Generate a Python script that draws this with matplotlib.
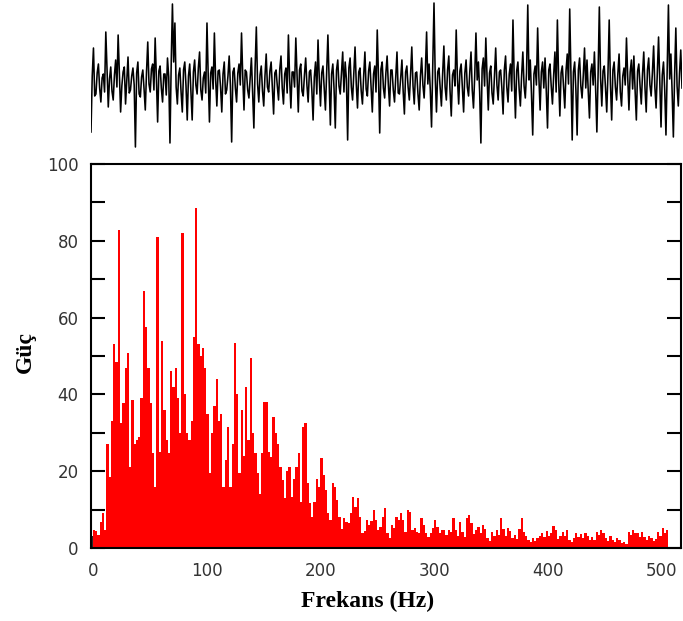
import numpy as np
import matplotlib
matplotlib.use("Agg")
import matplotlib.pyplot as plt
from matplotlib.ticker import MultipleLocator

# power spectrum, 2 Hz bins starting at 0 Hz
power = [
    4.7, 4.5, 3.4, 6.8, 9.1, 4.7, 27.0, 18.5, 33.0, 53.0,
    48.5, 82.8, 32.5, 37.7, 47.0, 50.7, 21.0, 38.5, 27.0, 28.0,
    29.0, 39.0, 67.0, 57.5, 47.0, 37.7, 24.7, 16.0, 81.0, 25.0,
    54.0, 36.0, 28.0, 24.7, 46.0, 42.0, 47.0, 39.0, 30.0, 82.0,
    40.0, 30.0, 28.0, 33.0, 55.0, 88.5, 53.0, 50.0, 52.0, 47.0,
    35.0, 19.5, 30.0, 37.0, 44.0, 33.0, 35.0, 16.0, 23.0, 31.5,
    16.0, 27.0, 53.5, 40.0, 19.5, 36.0, 24.0, 42.0, 28.0, 49.5,
    30.0, 24.7, 19.5, 14.0, 24.7, 38.0, 38.0, 25.0, 23.7, 34.0,
    30.0, 27.0, 21.0, 17.7, 13.0, 20.0, 21.0, 13.3, 18.0, 21.0,
    24.7, 12.0, 31.5, 32.5, 17.0, 11.7, 8.0, 12.0, 18.0, 16.0,
    23.4, 19.0, 15.0, 9.0, 7.3, 17.0, 16.0, 12.5, 8.0, 5.0,
    7.8, 6.8, 6.5, 9.0, 13.3, 10.7, 13.0, 8.0, 3.9, 4.5,
    7.3, 6.0, 7.0, 10.0, 7.3, 4.7, 5.5, 8.0, 10.4, 3.9,
    2.5, 6.0, 5.2, 8.0, 7.3, 9.0, 7.3, 4.2, 10.0, 9.4,
    4.7, 5.2, 4.2, 3.9, 7.8, 6.0, 3.9, 2.9, 3.9, 5.2,
    7.3, 5.5, 3.9, 4.7, 4.7, 3.4, 4.7, 4.2, 7.8, 4.7,
    3.2, 6.8, 4.2, 2.8, 7.8, 8.5, 6.5, 3.6, 4.7, 5.5,
    3.8, 6.0, 5.0, 2.6, 1.8, 4.2, 3.0, 4.6, 3.5, 7.8,
    5.0, 3.2, 5.2, 4.4, 2.6, 3.4, 2.4, 5.0, 7.8, 4.2,
    3.0, 2.2, 1.6, 2.6, 1.8, 2.6, 3.2, 3.9, 2.8, 4.4,
    3.0, 3.9, 5.7, 4.6, 2.4, 3.2, 4.2, 3.0, 4.6, 2.2,
    1.6, 2.6, 3.9, 2.8, 3.6, 2.6, 3.8, 3.0, 2.0, 2.8,
    2.2, 4.2, 3.4, 4.7, 4.0, 2.6, 1.8, 3.0, 2.2, 1.6,
    2.6, 2.0, 1.2, 1.6, 1.0, 4.2, 3.4, 4.7, 4.0, 3.9,
    2.8, 4.2, 2.9, 2.2, 3.2, 2.6, 1.8, 2.4, 4.2, 3.2,
    5.2, 3.9, 4.7,
]
bin_width = 2

# raw signal trace above the spectrum (arbitrary units)
signal = [
    -50, 6, 34, -14, -12, 9, 18, -6, -20, 4, 8, -10, 50, 12, -25, 3, 15, -9, -18, 7,
    22, -5, 47, 8, -30, -4, 10, 15, -22, 2, 25, -11, -8, 6, 14, -3, -65, 9, 20, -12,
    -15, 5, 12, -7, -28, 10, 40, -2, -10, 13, 18, -8, 44, 4, -40, 11, 16, -6, -20, 8,
    8, -13, 24, 5, -61, 18, 78, 20, 59, -5, -22, 7, 14, -10, -30, 12, 20, -4, -38, 6,
    18, -9, -38, 10, 22, -3, -12, 14, 30, -8, -18, 4, 10, -11, 59, 6, -40, 9, 15, -7,
    49, 3, -24, 11, 12, -5, -30, 8, 20, -12, -8, 6, 26, -4, -60, 10, 14, -6, -20, 9,
    18, -3, 49, 5, -28, 12, 10, -8, -16, 4, 24, -10, -46, 14, 55, -2, -20, 7, 16, -9,
    -24, 6, 28, -5, -10, 11, 20, -7, -32, 9, 12, -4, -18, 13, 26, -6, -22, 8, 14, -11,
    47, 3, -26, 10, 10, -5, 44, 6, -30, 12, 18, -9, -14, 7, 24, -3, -20, 10, 12, -8,
    -38, 5, 20, -12, 42, 4, -24, 9, 16, -6, -28, 11, 47, 2, -43, 8, 18, -7, -46, 12,
    22, -4, -12, 9, 30, -10, 20, 3, -58, 14, 24, -5, -18, 8, 35, -2, -26, 10, 14, -9,
    -22, 6, 30, -7, -14, 11, 20, -4, -30, 8, 16, -10, 52, 5, -51, 13, 20, -6, -16, 9,
    26, -3, -24, 12, 12, -8, -20, 6, 30, -11, -12, 4, 22, -9, -32, 10, 16, -5, -18, 7,
    35, -4, -22, 9, 10, -12, -28, 6, 24, -3, -16, 11, 50, -2, 18, -8, -45, 15, 79, 4,
    -30, 10, 14, -6, -24, 8, 36, -5, -18, 12, 26, -9, -34, 7, 12, -4, 52, 3, -22, 11,
    18, -7, -30, 9, 22, -5, -14, 10, 30, -8, -26, 6, 49, 2, 20, -10, -61, 13, 24, -4,
    44, 5, -28, 9, 16, -11, -22, 7, 34, -3, -18, 10, 12, -6, -32, 12, 26, -5, -20, 8,
    18, -9, 62, 4, -36, 11, 20, -7, -24, 6, 30, -4, -16, 9, 77, 2, 22, -12, -53, 8,
    16, -3, 54, 5, -28, 10, 20, -6, 24, -9, -46, 12, 18, -4, -22, 7, 30, -10, 62, 3,
    -34, 9, 16, -5, -26, 11, 28, -2, 73, 6, -58, 10, 20, -8, -53, 12, 24, -4, -16, 7,
    34, -6, 22, -9, -36, 10, 18, -3, 30, -7, -50, 8, 75, 4, -24, 11, 16, -6, -30, 9,
    62, -2, -38, 12, 20, -5, -18, 8, 28, -10, -24, 6, 14, -3, 44, 5, -28, 10, 22, -7,
    26, -9, -38, 11, 18, -4, -22, 8, 30, -6, -30, 12, 24, -3, -14, 9, 36, -5, -26, 10,
    45, -2, -45, 7, 20, -8, -53, 14, 77, 3, 28, -10, -55, 6, 54, -4, -24, 9, 32, -6,
]

freq = np.arange(len(power)) * bin_width
t = np.arange(len(signal))

fig = plt.figure(figsize=(6.83, 6.21), dpi=100)

# top: time signal, no axes
ax_sig = fig.add_axes([91 / 683, 1 - 150 / 621, 591 / 683, 150 / 621])
ax_sig.plot(t, signal, color="black", lw=1.15)
ax_sig.set_xlim(0, len(signal) - 1)
ax_sig.set_ylim(-68, 82)
ax_sig.axis("off")

# bottom: spectrum
ax = fig.add_axes([91 / 683, 1 - 548 / 621, 590 / 683, 384 / 621])
ax.bar(freq, power, width=bin_width, align="edge", color="#ff0000",
       linewidth=0, zorder=2.6)
ax.set_xlim(-1.5, 517)
ax.set_ylim(0, 100)
ax.xaxis.set_zorder(2)
for s in ax.spines.values():
    s.set_linewidth(1.5)
    s.set_zorder(3)

ax.xaxis.set_major_locator(MultipleLocator(100))
ax.yaxis.set_major_locator(MultipleLocator(20))
ax.yaxis.set_minor_locator(MultipleLocator(10))
ax.tick_params(axis="y", which="both", direction="in", right=True,
               length=10, width=1.5, pad=9, labelsize=12, labelcolor="#333333")
ax.tick_params(axis="x", which="both", direction="in", length=9, width=1.2,
               pad=10, labelsize=12, labelcolor="#333333")

lab_font = dict(family="Liberation Serif", fontweight="bold", fontsize=17,
                color="black")
ax.set_xlabel("Frekans (Hz)", **lab_font)
ax.set_ylabel("Güç", **lab_font)
ax.xaxis.set_label_coords(0.469, -0.112)
ax.yaxis.set_label_coords(-0.093, 0.51)

fig.savefig("out.png", dpi=100)
